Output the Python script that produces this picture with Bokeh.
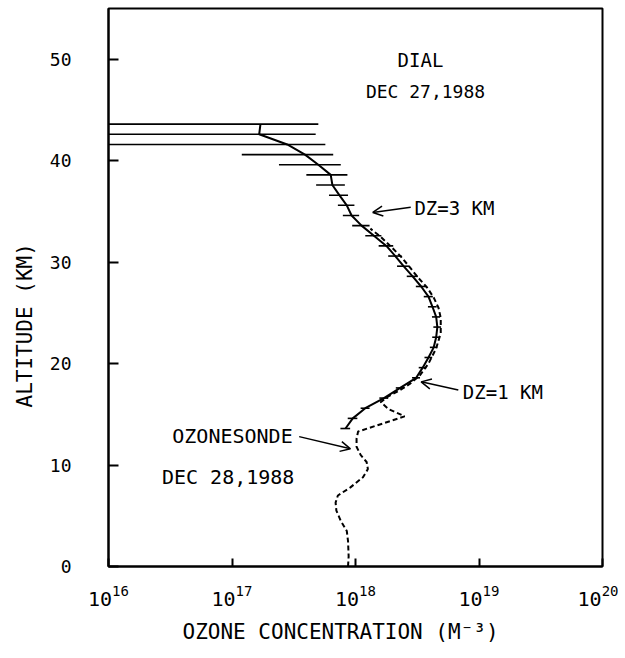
import numpy as np
from bokeh.plotting import figure
from bokeh.models import FixedTicker, Label, Arrow, OpenHead, Range1d, Title
from bokeh.embed import file_html
from bokeh.resources import INLINE

# ---- DIAL profile, Dec 27 1988 (altitude km, ozone concentration m^-3, error m^-3)
dial_alt = [43.6, 42.6, 41.6, 40.6, 39.6, 38.6, 37.6, 36.6, 35.6, 34.6, 33.6,
            32.6, 31.6, 30.6, 29.6, 28.6, 27.6, 26.6, 25.6, 24.6, 23.6,
            22.6, 21.6, 20.6, 19.6, 18.6, 17.6, 16.6, 15.6, 14.6, 13.6]
dial_conc = [1.70e17, 1.66e17, 2.8e17, 3.9e17, 5.0e17, 6.3e17, 6.5e17, 7.4e17, 8.5e17, 9.3e17, 1.12e18,
             1.41e18, 1.78e18, 2.1e18, 2.45e18, 2.9e18, 3.4e18, 3.9e18, 4.2e18, 4.5e18, 4.6e18,
             4.5e18, 4.3e18, 3.9e18, 3.5e18, 3.1e18, 2.3e18, 1.7e18, 1.2e18, 9.5e17, 8.3e17]
dial_err = [3.3e17, 3.1e17, 2.9e17, 2.7e17, 2.6e17, 2.3e17, 1.7e17, 1.3e17, 1.3e17, 1.4e17, 1.8e17,
            2.1e17, 2.4e17, 2.6e17, 2.8e17, 3.0e17, 3.2e17, 3.3e17, 3.4e17, 3.4e17, 3.3e17,
            3.2e17, 3.0e17, 2.8e17, 2.5e17, 2.3e17, 1.8e17, 1.4e17, 1.0e17, 0.85e17, 0.75e17]

# ---- Ozonesonde, Dec 28 1988
sonde_alt = [0.0, 1.0, 2.5, 3.5, 4.5, 5.5, 6.3, 7.0, 7.8, 8.8, 9.6, 10.3, 11.0, 11.8, 12.6, 13.3,
             14.8, 15.5, 16.2, 16.8, 17.4, 18.0, 18.8, 20.0, 21.5, 23.0, 24.5, 25.5, 26.5,
             27.5, 28.5, 29.5, 30.5, 31.5, 32.5, 33.3]
sonde_conc = [8.7e17, 8.8e17, 8.7e17, 8.5e17, 7.6e17, 7.0e17, 6.9e17, 7.2e17, 9.1e17, 1.15e18, 1.26e18,
              1.23e18, 1.10e18, 1.02e18, 1.02e18, 1.05e18,
              2.5e18, 1.86e18, 1.6e18, 1.86e18, 2.3e18, 2.75e18, 3.3e18, 3.9e18, 4.5e18, 4.9e18,
              4.9e18, 4.7e18, 4.3e18, 3.8e18, 3.2e18, 2.75e18, 2.35e18, 1.95e18, 1.6e18, 1.32e18]

x_ticks = [1e16, 1e17, 1e18, 1e19, 1e20]
y_ticks = [0, 10, 20, 30, 40, 50]

FONT = "DejaVu Sans Mono"

p = figure(frame_width=494, frame_height=558, x_axis_type="log",
           x_range=Range1d(1e16, 1e20), y_range=Range1d(0, 55),
           output_backend="svg", toolbar_location=None,
           min_border_left=108, min_border_right=16, min_border_top=8, min_border_bottom=84,
           background_fill_color="white", border_fill_color="white")

p.xgrid.visible = False
p.ygrid.visible = False
p.outline_line_color = "black"
p.outline_line_width = 2
p.outline_line_alpha = 1

p.xaxis.ticker = FixedTicker(ticks=x_ticks)
p.yaxis.ticker = FixedTicker(ticks=y_ticks)
for ax in (p.xaxis[0], p.yaxis[0]):
    ax.axis_line_color = "black"
    ax.axis_line_width = 2
    ax.major_tick_line_color = "black"
    ax.major_tick_line_width = 2
    ax.major_tick_out = 0
    ax.minor_tick_line_color = None
    ax.major_label_text_font = FONT
    ax.major_label_text_color = "black"
p.xaxis.major_label_text_font_size = "20px"
p.yaxis.major_label_text_font_size = "18px"
p.xaxis.major_tick_in = 8
p.yaxis.major_tick_in = 10
p.xaxis.major_label_standoff = 18
p.yaxis.major_label_standoff = 37

# DIAL error bars and profile
c = np.array(dial_conc)
e = np.array(dial_err)
lo = np.maximum(c - e, 1e15)
p.segment(x0=lo, y0=dial_alt, x1=c + e, y1=dial_alt, line_color="black", line_width=1.6)
p.line(dial_conc, dial_alt, line_color="black", line_width=2)

# Ozonesonde profile
p.line(sonde_conc, sonde_alt, line_color="black", line_width=2, line_dash="5 3")

# annotations
def lab(x, y, text, align="left", size="20px"):
    p.add_layout(Label(x=x, y=y, text=text, text_font=FONT, text_font_size=size,
                       text_align=align, text_baseline="middle", text_color="black"))

lab(3.36e18, 49.9, "DIAL", "center", "19px")
lab(3.69e18, 46.8, "DEC 27,1988", "center", "18px")
lab(3.0e18, 35.3, "DZ=3 KM", "left", "19px")
lab(7.4e18, 17.2, "DZ=1 KM", "left", "19px")
lab(3.1e17, 12.9, "OZONESONDE", "right", "20px")
lab(3.2e17, 8.8, "DEC 28,1988", "right", "20px")

# axis titles
p.add_layout(Title(text="OZONE CONCENTRATION (M\u207b\u00b3)", align="left", offset=74,
                   text_font=FONT, text_font_size="21px", text_font_style="normal",
                   text_color="black", standoff=19), "below")
p.add_layout(Title(text="ALTITUDE (KM)", align="left", offset=159,
                   text_font=FONT, text_font_size="21px", text_font_style="normal",
                   text_color="black", standoff=20), "left")

# arrows
def arrow(xs, ys, xe, ye):
    p.add_layout(Arrow(end=OpenHead(size=10, line_width=1.5, line_color="black"),
                       x_start=xs, y_start=ys, x_end=xe, y_end=ye,
                       line_width=1.5, line_color="black"))

arrow(2.8e18, 35.4, 1.38e18, 34.9)
arrow(6.8e18, 17.4, 3.4e18, 18.2)
arrow(3.5e17, 12.8, 9.1e17, 11.6)

open("out.html", "w").write(file_html(p, INLINE))
